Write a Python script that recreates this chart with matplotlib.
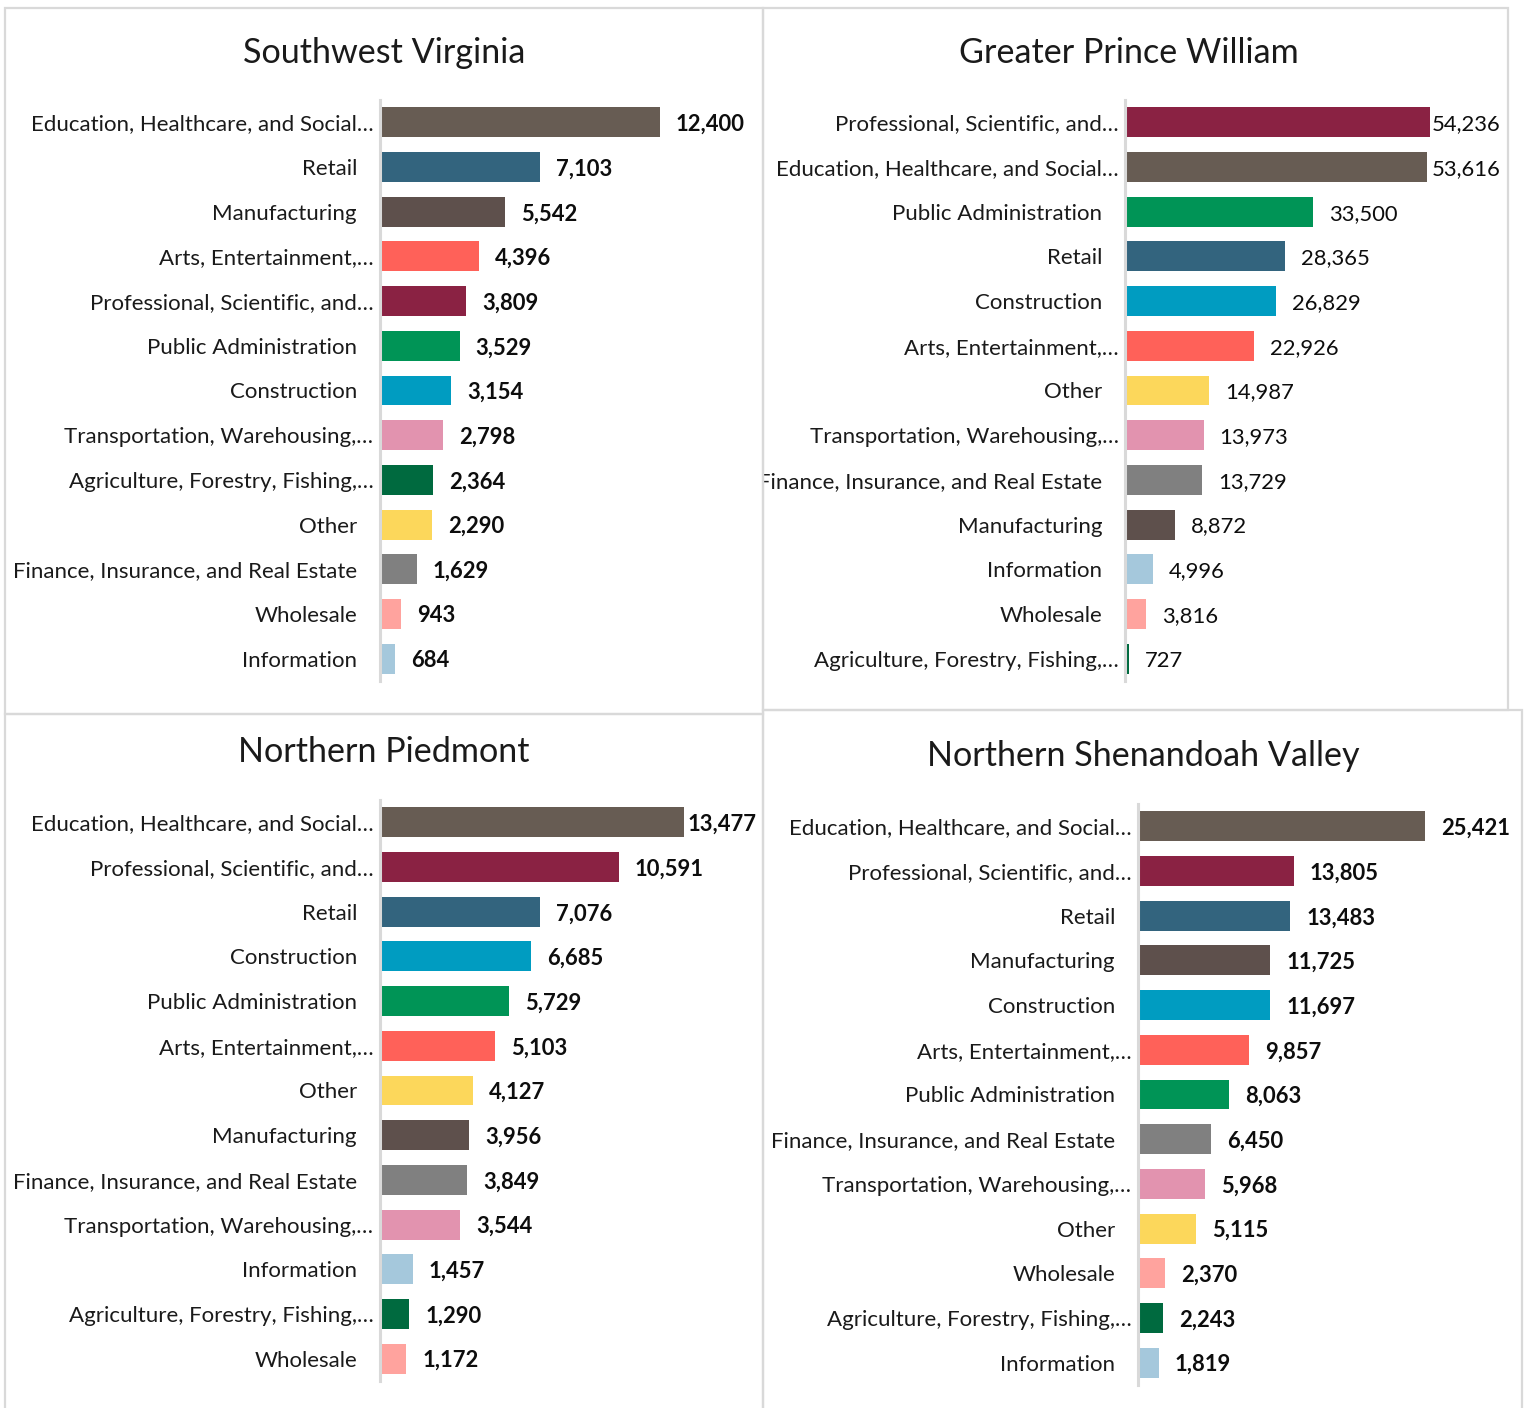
import matplotlib
matplotlib.use("Agg")
import matplotlib.pyplot as plt
from matplotlib.patches import Rectangle
from matplotlib.transforms import Bbox, TransformedBbox

plt.rcParams['font.family'] = ['Lato', 'DejaVu Sans']

# ---------------- data ----------------
sw_labels = ["Education, Healthcare, and Social…", "Retail", "Manufacturing", "Arts, Entertainment,…",
             "Professional, Scientific, and…", "Public Administration", "Construction",
             "Transportation, Warehousing,…", "Agriculture, Forestry, Fishing,…", "Other",
             "Finance, Insurance, and Real Estate", "Wholesale", "Information"]
sw_values = [12400, 7103, 5542, 4396, 3809, 3529, 3154, 2798, 2364, 2290, 1629, 943, 684]

gpw_labels = ["Professional, Scientific, and…", "Education, Healthcare, and Social…", "Public Administration",
              "Retail", "Construction", "Arts, Entertainment,…", "Other", "Transportation, Warehousing,…",
              "Finance, Insurance, and Real Estate", "Manufacturing", "Information", "Wholesale",
              "Agriculture, Forestry, Fishing,…"]
gpw_values = [54236, 53616, 33500, 28365, 26829, 22926, 14987, 13973, 13729, 8872, 4996, 3816, 727]

np_labels = ["Education, Healthcare, and Social…", "Professional, Scientific, and…", "Retail", "Construction",
             "Public Administration", "Arts, Entertainment,…", "Other", "Manufacturing",
             "Finance, Insurance, and Real Estate", "Transportation, Warehousing,…", "Information",
             "Agriculture, Forestry, Fishing,…", "Wholesale"]
np_values = [13477, 10591, 7076, 6685, 5729, 5103, 4127, 3956, 3849, 3544, 1457, 1290, 1172]

nsv_labels = ["Education, Healthcare, and Social…", "Professional, Scientific, and…", "Retail", "Manufacturing",
              "Construction", "Arts, Entertainment,…", "Public Administration",
              "Finance, Insurance, and Real Estate", "Transportation, Warehousing,…", "Other", "Wholesale",
              "Agriculture, Forestry, Fishing,…", "Information"]
nsv_values = [25421, 13805, 13483, 11725, 11697, 9857, 8063, 6450, 5968, 5115, 2370, 2243, 1819]

titles = ["Southwest Virginia", "Greater Prince William", "Northern Piedmont", "Northern Shenandoah Valley"]

colors = {
    "Education": "#675C53", "Retail": "#33647E", "Manufacturing": "#5E504C", "Arts": "#FF6159",
    "Professional": "#8A2243", "Public": "#009456", "Construction": "#009CC1", "Transportation": "#E293AF",
    "Agriculture": "#006A3F", "Other": "#FCD75B", "Finance": "#808080", "Wholesale": "#FFA39E",
    "Information": "#A5C8DC",
}

def color_for(label):
    key = label.split(",")[0].split(" ")[0]
    return colors[key]

# ---------------- layout (pixels) ----------------
W, H = 1524, 1408
fig = plt.figure(figsize=(W / 100, H / 100), dpi=100)

BORDER = "#D9D9D9"
LABEL_FS = 16
VALUE_FS = 15.8
TITLE_FS = 24.6

panels = [
    dict(rect=(5, 8, 763, 714), ax_x=380, top=100, bot=681, ppu=280 / 12400, tx=384, ty=53, bold=True,
         labels=sw_labels, values=sw_values, clamp=None),
    dict(rect=(763, 8, 1508, 710), ax_x=1125, top=100, bot=681, ppu=305 / 54236, tx=1129, ty=53, bold=False,
         labels=gpw_labels, values=gpw_values, clamp=1432),
    dict(rect=(5, 714, 763, 1410), ax_x=380, top=800, bot=1381, ppu=304 / 13477, tx=384, ty=752, bold=True,
         labels=np_labels, values=np_values, clamp=688),
    dict(rect=(763, 710, 1522, 1410), ax_x=1138, top=804, bot=1385, ppu=287 / 25421, tx=1143, ty=756, bold=True,
         labels=nsv_labels, values=nsv_values, clamp=None),
]

def fx(x):
    return x / W

def fy(y):
    return 1 - y / H

for p, title in zip(panels, titles):
    x0, y0, x1, y1 = p["rect"]
    fig.patches.append(Rectangle((fx(x0), fy(y1)), fx(x1 - x0), (y1 - y0) / H, transform=fig.transFigure,
                                 fill=False, edgecolor=BORDER, linewidth=1.6, zorder=0))
    clip = TransformedBbox(Bbox.from_extents(fx(x0), fy(y1), fx(x1), fy(y0)), fig.transFigure)

    fig.text(fx(p["tx"]), fy(p["ty"]), title, ha="center", va="center", fontsize=TITLE_FS, color="#1a1a1a")

    axw = 380
    ax = fig.add_axes([fx(p["ax_x"]), fy(p["bot"]), fx(axw), (p["bot"] - p["top"]) / H])
    n = len(p["labels"])
    ax.set_xlim(0, axw / p["ppu"])
    ax.set_ylim(n - 0.5, -0.5)
    ax.axis("off")
    ypos = list(range(n))
    ax.barh(ypos, p["values"], height=0.67, color=[color_for(l) for l in p["labels"]], zorder=2)
    ax.axvline(0, color=BORDER, linewidth=2.2, clip_on=False, zorder=3)

    for i, (lab, val) in enumerate(zip(p["labels"], p["values"])):
        pad = 6.5 if lab.endswith("…") else 23
        t = ax.annotate(lab, xy=(0, i), xytext=(-pad * 0.72, 0), textcoords="offset points",
                        ha="right", va="center_baseline", fontsize=LABEL_FS, color="#1a1a1a",
                        annotation_clip=False)
        t.set_clip_box(clip)
        t.set_clip_on(True)

        lx = val + 16 / p["ppu"]
        if p["clamp"] is not None:
            lx = min(lx, (p["clamp"] - p["ax_x"]) / p["ppu"])
        ax.text(lx, i, f"{val:,}", ha="left", va="center_baseline", fontsize=VALUE_FS,
                fontweight="bold" if p["bold"] else "normal", color="#0d0d0d", clip_on=False)

fig.savefig("out.png", dpi=100, facecolor="white")
